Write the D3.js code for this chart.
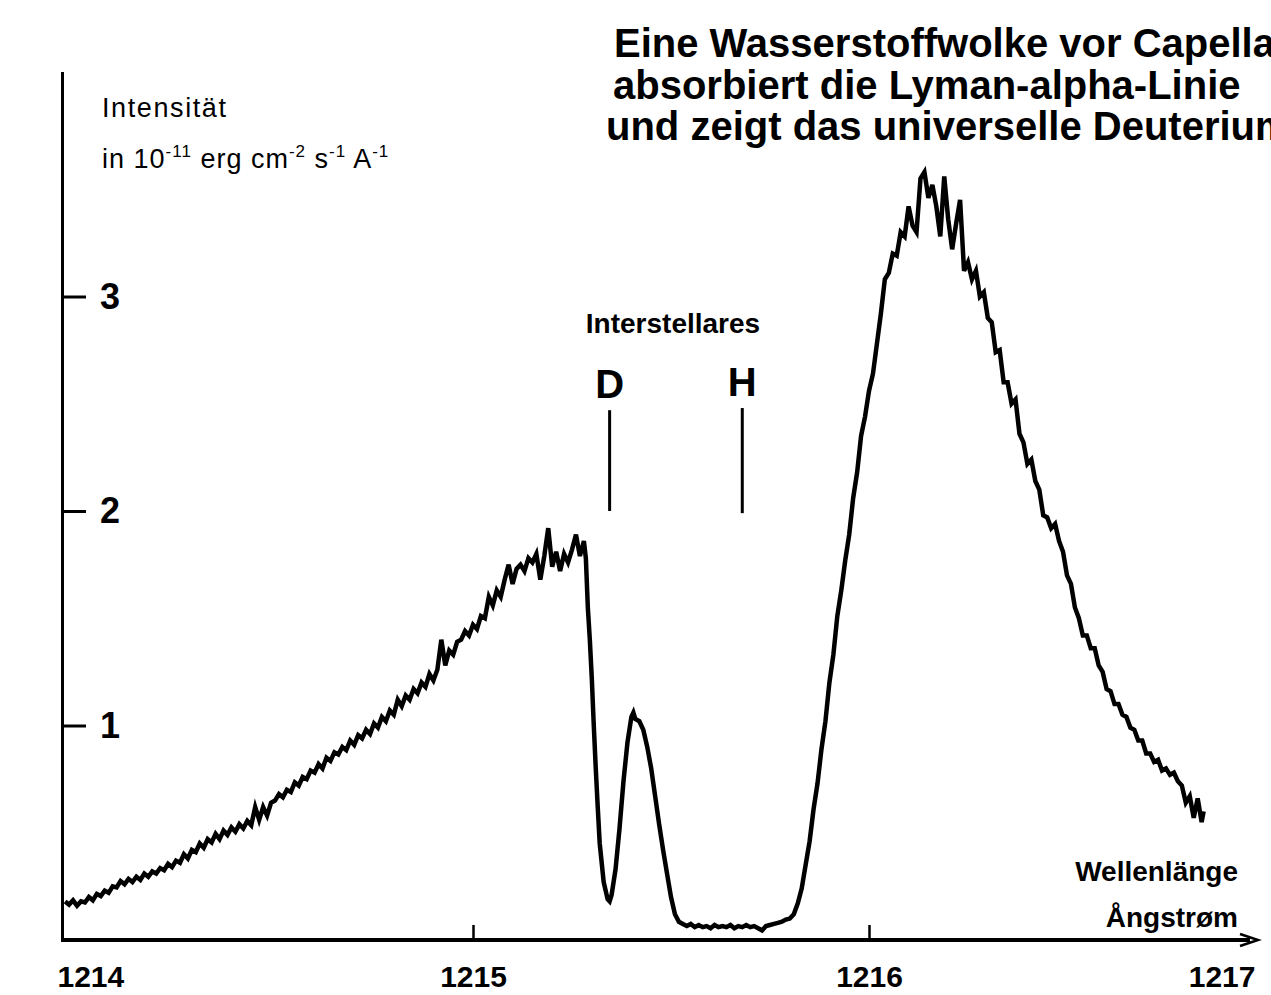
<!DOCTYPE html>
<html>
<head>
<meta charset="utf-8">
<script src="https://cdn.jsdelivr.net/npm/d3@7"></script>
<style>
  html, body { margin: 0; padding: 0; background: #fff; overflow: hidden; }
  svg { display: block; font-family: "Liberation Sans", Arial, sans-serif; }
</style>
</head>
<body>
<svg id="chart" width="1271" height="995"></svg>
<script>
// Achsen
const xTicks = [1214, 1215, 1216, 1217];
const yTicks = [1, 2, 3];

// Spektrum: blauer Flügel bis zur Kante vor der D-Absorption [Wellenlänge, Intensität]
const blueWing = [
  [1213.97, 0.18], [1213.98, 0.165], [1213.99, 0.185], [1214.00, 0.16], [1214.01, 0.18],
  [1214.02, 0.175], [1214.03, 0.20], [1214.04, 0.185], [1214.05, 0.215], [1214.06, 0.205],
  [1214.07, 0.23], [1214.08, 0.22], [1214.09, 0.25], [1214.10, 0.245], [1214.11, 0.275],
  [1214.12, 0.26], [1214.13, 0.285], [1214.14, 0.27], [1214.15, 0.295], [1214.16, 0.28],
  [1214.17, 0.31], [1214.18, 0.295], [1214.19, 0.32], [1214.20, 0.31], [1214.21, 0.335],
  [1214.22, 0.325], [1214.23, 0.355], [1214.24, 0.34], [1214.25, 0.37], [1214.26, 0.36],
  [1214.27, 0.40], [1214.28, 0.38], [1214.29, 0.42], [1214.30, 0.41], [1214.31, 0.45],
  [1214.32, 0.43], [1214.33, 0.47], [1214.34, 0.455], [1214.35, 0.495], [1214.36, 0.47],
  [1214.37, 0.51], [1214.38, 0.49], [1214.39, 0.525], [1214.40, 0.505], [1214.41, 0.54],
  [1214.42, 0.52], [1214.43, 0.555], [1214.44, 0.535], [1214.45, 0.62], [1214.46, 0.56],
  [1214.47, 0.62], [1214.48, 0.58], [1214.49, 0.64], [1214.50, 0.65], [1214.51, 0.68],
  [1214.52, 0.665], [1214.53, 0.70], [1214.54, 0.69], [1214.55, 0.735], [1214.56, 0.72],
  [1214.57, 0.76], [1214.58, 0.75], [1214.59, 0.79], [1214.60, 0.78], [1214.61, 0.82],
  [1214.62, 0.80], [1214.63, 0.85], [1214.64, 0.835], [1214.65, 0.875], [1214.66, 0.865],
  [1214.67, 0.90], [1214.68, 0.885], [1214.69, 0.93], [1214.70, 0.91], [1214.71, 0.955],
  [1214.72, 0.94], [1214.73, 0.98], [1214.74, 0.96], [1214.75, 1.01], [1214.76, 0.99],
  [1214.77, 1.04], [1214.78, 1.02], [1214.79, 1.07], [1214.80, 1.05], [1214.81, 1.12],
  [1214.82, 1.09], [1214.83, 1.14], [1214.84, 1.12], [1214.85, 1.17], [1214.86, 1.15],
  [1214.87, 1.20], [1214.88, 1.18], [1214.89, 1.24], [1214.90, 1.21], [1214.91, 1.26],
  [1214.92, 1.40], [1214.93, 1.28], [1214.94, 1.35], [1214.95, 1.33], [1214.96, 1.39],
  [1214.97, 1.40], [1214.98, 1.44], [1214.99, 1.42], [1215.00, 1.47], [1215.01, 1.45],
  [1215.02, 1.51], [1215.03, 1.50], [1215.04, 1.60], [1215.05, 1.56], [1215.06, 1.63],
  [1215.07, 1.60], [1215.08, 1.68], [1215.09, 1.75], [1215.10, 1.66], [1215.11, 1.73],
  [1215.12, 1.75], [1215.13, 1.72], [1215.14, 1.78], [1215.15, 1.76], [1215.16, 1.80],
  [1215.17, 1.68], [1215.18, 1.79], [1215.19, 1.92], [1215.20, 1.74], [1215.21, 1.81],
  [1215.22, 1.72], [1215.23, 1.80], [1215.24, 1.76], [1215.25, 1.82], [1215.26, 1.89],
  [1215.27, 1.79], [1215.28, 1.86]
];

// D-Absorption, Emissionsbuckel und H-Absorption (gesättigt)
const absorption = [
  [1215.285, 1.78], [1215.29, 1.55], [1215.295, 1.40], [1215.30, 1.22], [1215.305, 1.00],
  [1215.31, 0.80], [1215.315, 0.62], [1215.32, 0.45], [1215.33, 0.27], [1215.34, 0.19],
  [1215.345, 0.18], [1215.35, 0.21], [1215.36, 0.33], [1215.37, 0.52], [1215.38, 0.74],
  [1215.39, 0.92], [1215.40, 1.04], [1215.405, 1.06], [1215.41, 1.03], [1215.42, 1.02],
  [1215.43, 0.98], [1215.44, 0.90], [1215.45, 0.80], [1215.46, 0.67], [1215.47, 0.54],
  [1215.48, 0.42], [1215.49, 0.31], [1215.50, 0.20], [1215.51, 0.12], [1215.52, 0.085],
  [1215.53, 0.075], [1215.54, 0.065], [1215.55, 0.075], [1215.56, 0.06], [1215.57, 0.07],
  [1215.58, 0.06], [1215.59, 0.065], [1215.60, 0.055], [1215.61, 0.07], [1215.62, 0.06],
  [1215.63, 0.065], [1215.64, 0.06], [1215.65, 0.07], [1215.66, 0.055], [1215.67, 0.065],
  [1215.68, 0.06], [1215.69, 0.07], [1215.70, 0.06], [1215.71, 0.065], [1215.72, 0.055],
  [1215.73, 0.045], [1215.74, 0.065], [1215.75, 0.07], [1215.76, 0.075], [1215.77, 0.08],
  [1215.78, 0.085], [1215.79, 0.095]
];

// roter Flügel mit dem Emissionsmaximum
const redWing = [
  [1215.80, 0.10], [1215.81, 0.12], [1215.82, 0.17], [1215.83, 0.24], [1215.84, 0.35],
  [1215.85, 0.46], [1215.86, 0.61], [1215.87, 0.73], [1215.88, 0.89], [1215.89, 1.02],
  [1215.90, 1.20], [1215.91, 1.33], [1215.92, 1.51], [1215.93, 1.63], [1215.94, 1.77],
  [1215.95, 1.89], [1215.96, 2.06], [1215.97, 2.18], [1215.98, 2.35], [1215.99, 2.44],
  [1216.00, 2.56], [1216.01, 2.64], [1216.02, 2.78], [1216.03, 2.92], [1216.04, 3.08],
  [1216.05, 3.11], [1216.06, 3.20], [1216.07, 3.19], [1216.08, 3.30], [1216.09, 3.28],
  [1216.10, 3.42], [1216.11, 3.33], [1216.12, 3.30], [1216.13, 3.55], [1216.14, 3.58],
  [1216.15, 3.46], [1216.16, 3.52], [1216.17, 3.42], [1216.18, 3.28], [1216.19, 3.56],
  [1216.20, 3.36], [1216.21, 3.22], [1216.22, 3.34], [1216.23, 3.45], [1216.24, 3.12],
  [1216.25, 3.16], [1216.26, 3.08], [1216.27, 3.12], [1216.28, 3.00], [1216.29, 3.02],
  [1216.30, 2.90], [1216.31, 2.88], [1216.32, 2.74], [1216.33, 2.75], [1216.34, 2.60],
  [1216.35, 2.60], [1216.36, 2.50], [1216.37, 2.52], [1216.38, 2.36], [1216.39, 2.32],
  [1216.40, 2.22], [1216.41, 2.24], [1216.42, 2.14], [1216.43, 2.10], [1216.44, 1.98],
  [1216.45, 1.97], [1216.46, 1.92], [1216.47, 1.94], [1216.48, 1.86], [1216.49, 1.81],
  [1216.50, 1.70], [1216.51, 1.66], [1216.52, 1.55], [1216.53, 1.50], [1216.54, 1.42],
  [1216.55, 1.42], [1216.56, 1.36], [1216.57, 1.36], [1216.58, 1.28], [1216.59, 1.25],
  [1216.60, 1.17], [1216.61, 1.16], [1216.62, 1.10], [1216.63, 1.10], [1216.64, 1.05],
  [1216.65, 1.04], [1216.66, 0.99], [1216.67, 0.98], [1216.68, 0.93], [1216.69, 0.93],
  [1216.70, 0.87], [1216.71, 0.87], [1216.72, 0.83], [1216.73, 0.84], [1216.74, 0.79],
  [1216.75, 0.80], [1216.76, 0.77], [1216.77, 0.78], [1216.78, 0.74], [1216.79, 0.72],
  [1216.80, 0.64], [1216.81, 0.67], [1216.82, 0.57], [1216.83, 0.66], [1216.84, 0.55],
  [1216.845, 0.60]
];

// interstellare Linien: Name, Wellenlänge, Strich von/bis (Intensität)
const markers = [
  { name: "D", wl: 1215.345, from: 2.0, to: 2.47 },
  { name: "H", wl: 1215.68, from: 1.99, to: 2.48 }
];

const titleLines = [
  "Eine Wasserstoffwolke vor Capella",
  "absorbiert die Lyman-alpha-Linie",
  "und zeigt das universelle Deuterium"
];

const svg = d3.select("#chart");

const x = d3.scaleLinear().domain([1214, 1217]).range([77, 1265]);
const y = d3.scaleLinear().domain([0, 3]).range([940, 296.5]);

// Titel (rechts angeschnitten wie im Original)
const titleX = [614, 613, 606];
svg.append("g")
  .selectAll("text")
  .data(titleLines)
  .enter()
  .append("text")
  .attr("x", (d, i) => titleX[i])
  .attr("y", (d, i) => 57 + i * 41.5)
  .style("font-size", "40px")
  .style("font-weight", "bold")
  .text((d) => d);

// Y-Achse
const yAxis = svg.append("g")
  .attr("transform", "translate(62,0)")
  .call(d3.axisRight(y).tickValues(yTicks).tickSize(24).tickPadding(14).tickFormat(d3.format("d")));
yAxis.select(".domain").remove();
yAxis.selectAll(".tick line").attr("stroke", "#000").attr("stroke-width", 3);
yAxis.selectAll(".tick text")
  .attr("fill", "#000")
  .style("font-size", "36px")
  .style("font-weight", "bold")
  .style("font-family", "Liberation Sans, Arial, sans-serif");

svg.append("line")
  .attr("x1", 62.5).attr("x2", 62.5)
  .attr("y1", 72).attr("y2", 941)
  .attr("stroke", "#000")
  .attr("stroke-width", 3);

// Y-Beschriftung
svg.append("text")
  .attr("x", 102).attr("y", 117)
  .style("font-size", "27px")
  .style("letter-spacing", "1.6px")
  .text("Intensität");

const unitParts = [
  { t: "in 10", dy: 0 }, { t: "-11", dy: -11 },
  { t: " erg cm", dy: 11 }, { t: "-2", dy: -11 },
  { t: " s", dy: 11 }, { t: "-1", dy: -11 },
  { t: " A", dy: 11 }, { t: "-1", dy: -11 }
];
svg.append("text")
  .attr("x", 102).attr("y", 168)
  .style("letter-spacing", "1px")
  .selectAll("tspan")
  .data(unitParts)
  .enter()
  .append("tspan")
  .attr("dy", (d) => d.dy)
  .style("font-size", (d) => (d.dy < 0 ? "17px" : "27px"))
  .text((d) => d.t);

// X-Achse
const xAxis = svg.append("g")
  .attr("transform", "translate(0,940)")
  .call(d3.axisBottom(x).tickValues(xTicks).tickSizeInner(-15).tickSizeOuter(0).tickPadding(38).tickFormat(d3.format("d")));
xAxis.select(".domain").remove();
xAxis.selectAll(".tick line")
  .attr("stroke", "#000")
  .attr("stroke-width", 2.5)
  .attr("opacity", (d) => (d === 1215 || d === 1216 ? 1 : 0));
xAxis.selectAll(".tick text")
  .attr("fill", "#000")
  .style("font-size", "30px")
  .style("font-weight", "bold")
  .style("font-family", "Liberation Sans, Arial, sans-serif")
  .attr("dy", "0.3em")
  .attr("text-anchor", (d) => (d === 1214 ? "start" : d === 1217 ? "end" : "middle"))
  .attr("dx", (d) => (d === 1214 ? -20 : d === 1217 ? -10 : 0));

svg.append("line")
  .attr("x1", 61).attr("x2", 1250)
  .attr("y1", 940).attr("y2", 940)
  .attr("stroke", "#000")
  .attr("stroke-width", 4);
svg.append("path")
  .attr("d", "M1240,934 L1258,940 L1240,946")
  .attr("fill", "none")
  .attr("stroke", "#000")
  .attr("stroke-width", 2.5);

svg.append("text")
  .attr("x", 1238).attr("y", 881)
  .attr("text-anchor", "end")
  .style("font-size", "28px")
  .style("font-weight", "bold")
  .text("Wellenlänge");
svg.append("text")
  .attr("x", 1238).attr("y", 927)
  .attr("text-anchor", "end")
  .style("font-size", "28px")
  .style("font-weight", "bold")
  .text("Ångstrøm");

// Spektrum
const line = d3.line()
  .x((d) => x(d[0]))
  .y((d) => y(d[1]));

svg.append("path")
  .datum(blueWing.concat(absorption, redWing))
  .attr("d", line)
  .attr("fill", "none")
  .attr("stroke", "#000")
  .attr("stroke-width", 4.5)
  .attr("stroke-linejoin", "miter");

// Interstellare Linien
svg.append("text")
  .attr("x", x(1215.505)).attr("y", 333)
  .attr("text-anchor", "middle")
  .style("font-size", "28px")
  .style("font-weight", "bold")
  .text("Interstellares");

const mk = svg.append("g").selectAll("g").data(markers).enter().append("g");
mk.append("line")
  .attr("x1", (d) => x(d.wl)).attr("x2", (d) => x(d.wl))
  .attr("y1", (d) => y(d.to)).attr("y2", (d) => y(d.from))
  .attr("stroke", "#000")
  .attr("stroke-width", 3);
mk.append("text")
  .attr("x", (d) => x(d.wl))
  .attr("y", (d) => y(d.to) - 12)
  .attr("text-anchor", "middle")
  .style("font-size", "40px")
  .style("font-weight", "bold")
  .text((d) => d.name);
</script>
</body>
</html>
